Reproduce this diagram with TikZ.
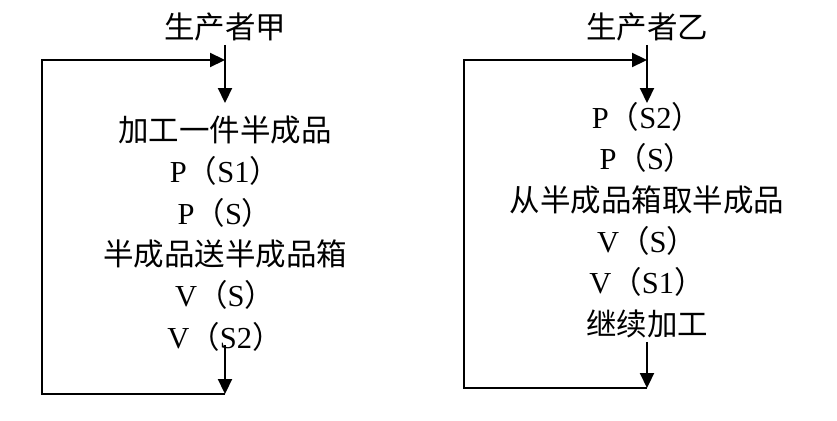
\documentclass[tikz,border=0pt]{standalone}
\usepackage{fontspec}
\setmainfont{Liberation Serif}
\newfontfamily\cjk{Noto Sans CJK SC}
\usetikzlibrary{arrows.meta,positioning}
\newcommand\zl{{\cjk （}}
\newcommand\zr{{\cjk ）}}

\begin{document}
\begin{tikzpicture}[x=1pt,y=-1pt,
        line/.style={line width=2.2pt},
        arr/.style={line,-{Triangle[length=15pt,width=14pt]}},
        txt/.style={inner sep=0pt,text height=23pt,text depth=6.5pt,
                    font=\fontsize{30.5}{36}\selectfont},
        node distance=11.5pt]
    \useasboundingbox (0,0) rectangle (837,420);

    % producer A
    \node[txt] (tA) at (225,30) {\cjk 生产者甲};
    \node[txt] (a1) at (225,133) {\cjk 加工一件半成品};
    \node[txt,below=of a1] (a2) {P\zl S1\zr};
    \node[txt,below=of a2] (a3) {P\zl S\zr};
    \node[txt,below=of a3] (a4) {\cjk 半成品送半成品箱};
    \node[txt,below=of a4] (a5) {V\zl S\zr};
    \node[txt,below=of a5] (a6) {V\zl S2\zr};
    \coordinate (aIn) at (225,103);
    \coordinate (aTop) at (225,60);
    \coordinate (aTL) at (42,60);
    \coordinate (aOut) at (225,345);
    \coordinate (aEnd) at (225,394);
    \draw[arr] (tA.south) -- (aIn);
    \draw[arr] (aOut) -- (aEnd);
    \draw[arr] (aEnd) -| (aTL) -- (aTop);

    % producer B
    \node[txt] (tB) at (647,30) {\cjk 生产者乙};
    \node[txt] (b1) at (647,120) {P\zl S2\zr};
    \node[txt,below=of b1] (b2) {P\zl S\zr};
    \node[txt,below=of b2] (b3) {\cjk 从半成品箱取半成品};
    \node[txt,below=of b3] (b4) {V\zl S\zr};
    \node[txt,below=of b4] (b5) {V\zl S1\zr};
    \node[txt,below=of b5] (b6) {\cjk 继续加工};
    \coordinate (bIn) at (647,103);
    \coordinate (bTop) at (647,60);
    \coordinate (bTL) at (464,60);
    \coordinate (bEnd) at (647,388);
    \draw[arr] (tB.south) -- (bIn);
    \draw[arr] (b6.south) -- (bEnd);
    \draw[arr] (bEnd) -| (bTL) -- (bTop);
\end{tikzpicture}
\end{document}
